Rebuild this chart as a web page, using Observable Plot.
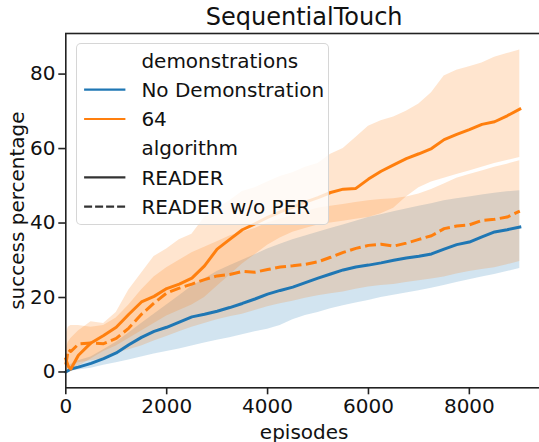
<!DOCTYPE html>
<html>
<head>
<meta charset="utf-8">
<script src="https://cdn.jsdelivr.net/npm/d3@7"></script>
<script src="https://cdn.jsdelivr.net/npm/@observablehq/plot@0.6"></script>
<style>
  html, body { margin: 0; padding: 0; background: white; }
  #wrap { position: relative; width: 539px; height: 442px; overflow: hidden; font-family: "DejaVu Sans", sans-serif; }
  #legend { position: absolute; left: 75.6px; top: 43.3px; width: 253.7px; height: 181.7px; box-sizing: border-box;
            background: rgba(255,255,255,0.8); border: 1.5px solid rgba(204,204,204,0.8); border-radius: 5px; }
</style>
</head>
<body>
<div id="wrap"><div id="legend"></div></div>
<script>
// ---- data ----
const episodes = [0,50,100,250,500,750,1000,1250,1500,1750,2000,2250,2500,2750,3000,3250,3500,3750,4000,4250,4500,4750,5000,5250,5500,5750,6000,6250,6500,6750,7000,7250,7500,7750,8000,8250,8500,8750,9000];

// 64 demonstrations, READER (orange solid)
const demo64ReaderMean = [3.5,1.5,0.8,4.5,7.8,9.8,12,15.5,18.8,20.3,22.4,23.6,25.2,28.5,33,35.6,38.2,39.8,41.5,43,44.3,45.6,46.8,48.2,49.1,49.3,51.8,53.9,55.6,57.3,58.6,60,62.4,63.8,65.1,66.5,67.2,68.8,70.6];
const demo64ReaderHi   = [6,8,9,11,13.5,13,16,22,26.5,31,33,35.5,37,41.5,44,46,48.5,49.5,51,52.5,53.5,55,56,58.5,60,63,66,67.5,68.5,70,72,75,79.5,81,82,83,84.5,85.5,86.5];
const demo64ReaderLo   = [0,0,0,1.5,3.5,5.5,7,9,11,13,15,16.5,18,20,23,26,29,31.5,34,36,37.5,38.5,39.5,40,40.5,41,41.5,42.5,44,47,49.5,51,52,53,54,55,56,56.8,57.6];

// 64 demonstrations, READER w/o PER (orange dashed)
const demo64NoPerMean = [2,6,5.5,7.5,7.8,7.6,9,11.8,15.5,18.5,21.2,22.5,23.6,24.8,25.8,26.2,27,26.8,27.5,28.2,28.5,28.9,29.6,30.8,32.1,33.2,34,34.3,33.8,34.6,35.6,36.6,38.5,39.2,39.5,40.7,41,41.6,43.2];
const demo64NoPerHi   = [10,12,12.5,12.5,12,12.5,14.5,18,22,25.5,28,30,32,33.5,35,36.5,37.5,38.5,40,41,42,43,44,44.5,45,45.5,46,46.3,46.5,47,47.8,49,50.5,52,53,54,55,55.8,56.7];
const demo64NoPerLo   = [0,1.5,1.5,2.5,3,3.5,5,6,7,8.3,9.5,10.8,12,13,14,14.8,15.5,16.5,17.5,18.3,19,19.8,20.5,21,21.5,22.2,22.8,23.2,23.5,24,24.5,25,25.5,26.3,27,27.5,28,28.8,29.7];

// No Demonstration, READER (blue solid)
const noDemoReaderMean = [0,0.4,0.8,1.3,2.3,3.6,5.1,7.3,9.3,10.9,12,13.4,14.8,15.5,16.3,17.3,18.4,19.6,20.9,21.9,22.8,24,25.2,26.3,27.4,28.2,28.7,29.3,30,30.6,31.1,31.7,33,34.2,34.9,36.3,37.6,38.2,38.9];
const noDemoReaderHi   = [0.5,1.5,2,3,4,6,8,10.5,13,15.5,18,20.5,23,25,27,28.5,30,31.5,33,34.3,35.5,36.5,37.5,38.5,39.5,40.5,41.5,42.2,43,43.8,44.5,45.2,46,46.5,47,47.5,48,48.4,48.7];
const noDemoReaderLo   = [0,0,0.2,0.5,1,1.8,2.5,3.2,4,4.8,5.5,6.2,7,7.8,8.5,9.2,10,10.8,11.5,12.5,14,15.2,16,17,17.8,18.5,19.2,20,20.6,21.2,21.8,22.5,23.2,24,24.8,25.5,26.2,27,27.8];

const xTicks = [0,2000,4000,6000,8000];
const yTicks = [0,20,40,60,80];
const demoLabels = ["No Demonstration","64"];
const algoLabels = ["READER","READER w/o PER"];
const titleText = "SequentialTouch";
const xLabel = "episodes";
const yLabel = "success percentage";

// ---- build tables ----
const BLUE = "#1f77b4", ORANGE = "#ff7f0e";
function rows(mean, lo, hi) {
  return episodes.map((e, i) => ({episode: e, mean: mean[i], lo: lo[i], hi: hi[i]}));
}
const series = [
  {data: rows(noDemoReaderMean, noDemoReaderLo, noDemoReaderHi), color: BLUE, dash: null},
  {data: rows(demo64ReaderMean, demo64ReaderLo, demo64ReaderHi), color: ORANGE, dash: null},
  {data: rows(demo64NoPerMean, demo64NoPerLo, demo64NoPerHi), color: ORANGE, dash: "11,4.5"}
];

const marks = [];
for (const s of series) {
  marks.push(Plot.areaY(s.data, {x: "episode", y1: "lo", y2: "hi", fill: s.color, fillOpacity: 0.2}));
}
for (const s of series) {
  marks.push(Plot.line(s.data, {x: "episode", y: "mean", stroke: s.color, strokeWidth: 3,
    strokeDasharray: s.dash || undefined, strokeLinejoin: "round", strokeLinecap: s.dash ? "butt" : "square"}));
}
marks.push(Plot.frame({stroke: "#222", strokeWidth: 1.6}));
marks.push(Plot.axisX({ticks: xTicks, tickSize: 7, tickPadding: 4, fontSize: 20, label: null, tickFormat: d => String(d), strokeWidth: 1.6, stroke: "#222", fill: "#111"}));
marks.push(Plot.axisY({ticks: yTicks, tickSize: 7, tickPadding: 3.3, fontSize: 20, label: null, tickFormat: d => String(d), strokeWidth: 1.6, stroke: "#222", fill: "#111"}));
marks.push(Plot.text([titleText], {text: d => d, frameAnchor: "top", dy: -15.7, fontSize: 24, lineAnchor: "middle", textAnchor: "middle", fill: "#111"}));
marks.push(Plot.text([xLabel], {text: d => d, frameAnchor: "bottom", dy: 44.3, fontSize: 20, lineAnchor: "middle", textAnchor: "middle", fill: "#111"}));
marks.push(Plot.text([yLabel], {text: d => d, frameAnchor: "left", dx: -48.3, rotate: -90, fontSize: 20, lineAnchor: "middle", textAnchor: "middle", fill: "#111"}));

const chart = Plot.plot({
  width: 539, height: 442,
  marginLeft: 65.3, marginRight: -3, marginTop: 33, marginBottom: 54.7,
  style: {fontFamily: "DejaVu Sans", fontSize: "20px", background: "white", overflow: "visible"},
  x: {domain: [0, 9450]},
  y: {domain: [-4.25, 90.9]},
  marks
});
const wrap = document.getElementById("wrap");
wrap.insertBefore(chart, wrap.firstChild);

// ---- legend ----
const ns = "http://www.w3.org/2000/svg";
const lg = document.createElementNS(ns, "svg");
lg.setAttribute("width", 252); lg.setAttribute("height", 180);
lg.style.position = "absolute"; lg.style.left = "0"; lg.style.top = "0";
const entries = [
  {label: "demonstrations", line: null},
  {label: demoLabels[0], line: {stroke: BLUE}},
  {label: demoLabels[1], line: {stroke: ORANGE}},
  {label: "algorithm", line: null},
  {label: algoLabels[0], line: {stroke: "#333"}},
  {label: algoLabels[1], line: {stroke: "#333", dash: "8,3"}}
];
const rowY = [16.7, 45.7, 75, 104, 133.4, 162.7];
entries.forEach((e, i) => {
  const cy = rowY[i];
  if (e.line) {
    const l = document.createElementNS(ns, "line");
    l.setAttribute("x1", 7.1); l.setAttribute("x2", 48.4);
    l.setAttribute("y1", cy); l.setAttribute("y2", cy);
    l.setAttribute("stroke", e.line.stroke); l.setAttribute("stroke-width", 2.2);
    if (e.line.dash) l.setAttribute("stroke-dasharray", e.line.dash);
    lg.appendChild(l);
  }
  const t = document.createElementNS(ns, "text");
  t.setAttribute("x", 64.4); t.setAttribute("y", cy + 7.2);
  t.setAttribute("font-family", "DejaVu Sans"); t.setAttribute("font-size", 20);
  t.setAttribute("fill", "#111");
  t.textContent = e.label;
  lg.appendChild(t);
});
document.getElementById("legend").appendChild(lg);
</script>
</body>
</html>
